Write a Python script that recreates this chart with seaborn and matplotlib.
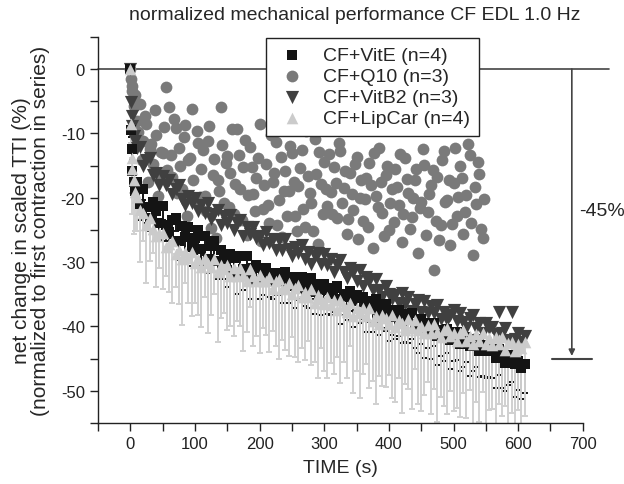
import numpy as np
import pandas as pd
import matplotlib
matplotlib.use("Agg")
import matplotlib.pyplot as plt
import seaborn as sns
from matplotlib.ticker import MultipleLocator

# sample times (s)
time_s = [0, 1, 2, 3, 5, 7,
          10, 15, 20, 25, 30, 35, 40, 45, 50, 55,
          60, 65, 70, 75, 80, 85, 90, 95, 100, 105,
          110, 115, 120, 125, 130, 135, 140, 145, 150, 155,
          160, 165, 170, 175, 180, 185, 190, 195, 200, 205,
          210, 215, 220, 225, 230, 235, 240, 245, 250, 255,
          260, 265, 270, 275, 280, 285, 290, 295, 300, 305,
          310, 315, 320, 325, 330, 335, 340, 345, 350, 355,
          360, 365, 370, 375, 380, 385, 390, 395, 400, 405,
          410, 415, 420, 425, 430, 435, 440, 445, 450, 455,
          460, 465, 470, 475, 480, 485, 490, 495, 500, 505,
          510, 515, 520, 525, 530, 535, 540, 545, 550, 555,
          560, 565, 570, 575, 580, 585, 590, 595, 600, 605,
          610]

vite = [0, -9.5, -12.5, -15.8, -17.6, -18.9,
        -17.6, -21.0, -18.6, -21.4, -23.1, -20.6, -22.0, -23.9, -21.3, -24.3,
        -25.4, -23.5, -23.1, -26.8, -24.4, -26.1, -24.6, -27.6, -26.2, -25.0,
        -28.0, -26.0, -29.5, -27.5, -26.7, -29.8, -28.2, -29.5, -31.2, -28.7,
        -29.4, -31.8, -29.1, -31.1, -29.0, -32.8, -30.9, -30.4, -32.9, -31.9,
        -30.9, -32.2, -33.1, -31.7, -32.1, -33.1, -31.6, -32.8, -32.4, -33.8,
        -32.8, -32.3, -34.1, -33.5, -32.5, -34.6, -33.4, -34.4, -33.4, -34.4,
        -34.9, -34.1, -33.7, -35.8, -34.9, -35.4, -34.5, -36.1, -35.2, -35.6,
        -35.4, -37.0, -36.1, -36.8, -35.7, -37.6, -37.0, -36.5, -38.6, -37.4,
        -38.2, -37.4, -39.2, -38.1, -38.8, -37.9, -39.8, -39.7, -38.9, -40.7,
        -39.5, -40.7, -39.5, -41.5, -40.6, -41.2, -40.4, -42.1, -41.3, -40.8,
        -42.8, -41.8, -41.7, -43.0, -42.8, -41.9, -43.9, -42.9, -43.8, -43.2,
        -43.7, -44.9, -43.5, -44.7, -45.7, -44.5, -44.5, -45.9, -45.4, -46.5,
        -45.8]

vite_err = [0, 1.0, 1.5, 2.0, 2.0, 2.0,
            2.0, 2.4, 1.8, 2.6, 2.1, 2.5, 1.9, 2.7, 2.2, 2.4,
            2.3, 2.7, 2.0, 2.9, 2.4, 2.6, 2.1, 3.0, 2.5, 2.8,
            2.5, 2.9, 2.2, 3.1, 2.6, 2.8, 2.3, 3.2, 2.7, 3.0,
            2.7, 3.1, 2.4, 3.3, 2.8, 3.0, 2.5, 3.4, 2.9, 3.2,
            2.9, 3.3, 2.6, 3.5, 3.0, 3.2, 2.7, 3.6, 3.1, 3.4,
            3.1, 3.5, 2.8, 3.7, 3.2, 3.4, 2.9, 3.8, 3.3, 3.6,
            3.3, 3.7, 3.0, 3.9, 3.4, 3.6, 3.1, 4.0, 3.5, 3.8,
            3.5, 3.9, 3.2, 4.1, 3.6, 3.8, 3.3, 4.2, 3.7, 4.0,
            3.7, 4.1, 3.4, 4.3, 3.8, 4.0, 3.5, 4.4, 3.9, 4.2,
            3.9, 4.3, 3.6, 4.5, 4.0, 4.2, 3.7, 4.6, 4.1, 4.4,
            4.1, 4.5, 3.8, 4.7, 4.2, 4.4, 3.9, 4.8, 4.3, 4.6,
            4.3, 4.7, 4.0, 4.9, 4.4, 4.6, 4.1, 5.0, 4.5, 4.8,
            4.5]

# Q10 recording stops around 545 s
q10 = [0, -1.5, -2.6, -3.4, -5.8, -4.0,
       -8.1, -5.5, -11.2, -8.6, -12.4, -14.8, -10.3, -16.5, -13.0, -2.8,
       -5.9, -16.8, -9.1, -12.3, -18.6, -8.7, -14.2, -6.2, -20.4, -11.5,
       -15.6, -19.8, -11.2, -24.7, -14.0, -17.3, -5.9, -20.9, -13.5, -16.2,
       -22.6, -9.4, -18.7, -15.3, -25.8, -12.1, -19.5, -16.9, -8.6, -21.7,
       -14.8, -23.9, -17.6, -11.4, -20.3, -26.1, -15.9, -19.0, -13.1, -22.8,
       -18.2, -12.6, -24.5, -16.6, -20.8, -10.9, -27.2, -17.9, -14.4, -21.3,
       -19.1, -15.2, -23.1, -12.8, -18.5, -25.6, -16.1, -21.9, -13.7, -20.0,
       -23.7, -17.0, -14.6, -27.8, -19.8, -12.2, -22.4, -16.4, -25.0, -18.6,
       -15.5, -21.1, -26.9, -13.9, -19.3, -23.0, -17.3, -28.6, -20.6, -14.9,
       -22.2, -18.1, -31.2, -16.8, -24.3, -12.7, -20.4, -27.4, -17.7, -22.9,
       -15.0, -25.7, -19.6, -13.4, -28.9, -21.0, -16.3, -26.2]

# Q10 points between the samples above (12.5 s, 17.5 s, ...)
q10_b = [-9.8, -14.2, -7.3, -17.5, -11.6, -6.4, -19.8, -12.9, -9.0, -15.7,
         -13.4, -7.8, -19.2, -15.1, -10.6, -22.8, -13.8, -17.2, -9.6, -19.9,
         -12.6, -22.1, -8.8, -16.4, -26.3, -18.9, -11.8, -14.6, -21.5, -9.3,
         -17.8, -13.3, -23.4, -11.0, -19.6, -15.2, -22.1, -13.9, -26.7, -18.0,
         -21.1, -10.2, -16.1, -24.2, -13.6, -19.0, -22.9, -11.9, -17.5, -25.2,
         -15.4, -21.8, -9.7, -19.3, -25.1, -16.3, -12.9, -22.5, -18.7, -13.2,
         -22.6, -17.7, -11.5, -20.8, -15.9, -23.3, -19.4, -14.8, -26.4, -17.2,
         -20.2, -24.6, -18.1, -13.0, -21.4, -17.6, -26.0, -15.1, -20.9, -23.8,
         -18.4, -13.2, -22.6, -17.1, -24.9, -20.1, -15.6, -21.6, -12.4, -25.8,
         -19.4, -15.7, -23.6, -26.5, -14.1, -20.7, -17.2, -24.1, -12.3, -19.9,
         -16.9, -22.3, -11.6, -23.9, -18.3, -14.5, -24.8, -20.2]
q10_b_time = [t + 2.5 for t in time_s[6:6 + len(q10_b)]]

vitb2 = [0, -5.2, -7.3, -8.9, -10.4, -11.2,
         -12.3, -12.1, -15.0, -14.2, -13.9, -16.5, -16.1, -18.0, -16.6, -18.1,
         -17.2, -19.4, -18.6, -18.1, -20.2, -21.1, -19.8, -20.8, -20.0, -22.1,
         -21.1, -22.4, -20.8, -23.3, -22.5, -21.9, -24.2, -22.9, -23.9, -22.7,
         -25.0, -24.0, -23.4, -26.0, -24.5, -25.6, -24.6, -26.3, -25.9, -27.3,
         -25.4, -27.1, -26.4, -28.2, -26.5, -28.2, -26.4, -27.9, -29.1, -27.6,
         -28.6, -27.4, -29.6, -28.4, -30.3, -29.0, -28.6, -30.3, -28.7, -30.4,
         -29.5, -31.5, -30.5, -29.7, -31.6, -32.5, -31.0, -31.6, -32.9, -31.3,
         -33.7, -32.3, -32.9, -34.3, -32.7, -34.3, -35.4, -33.8, -34.9, -35.8,
         -35.1, -36.4, -34.8, -36.5, -35.5, -37.6, -36.5, -35.9, -37.7, -36.0,
         -37.9, -36.8, -37.9, -36.7, -38.9, -37.7, -39.0, -38.3, -37.5, -39.1,
         -37.9, -39.3, -40.2, -38.7, -38.2, -40.3, -39.5, -41.1, -39.5, -40.3,
         -40.1, -41.2, -37.7, -41.1, -40.3, -42.1, -37.8, -41.9, -41.1, -42.4,
         -41.5]

lipcar = [0, -8.5, -13.8, -15.6, -17.2, -19.1,
          -19.9, -21.9, -22.4, -24.3, -23.2, -24.8, -26.0, -25.5, -25.5, -27.6,
          -27.2, -26.8, -28.8, -28.2, -29.6, -28.4, -29.4, -28.5, -30.1, -29.5,
          -30.8, -29.4, -30.2, -30.8, -29.6, -31.5, -30.5, -31.1, -30.4, -32.2,
          -31.0, -32.2, -30.9, -32.0, -33.0, -31.1, -32.2, -32.9, -32.0, -33.0,
          -33.0, -32.3, -34.2, -33.0, -32.6, -34.2, -34.1, -33.3, -34.9, -34.1,
          -33.6, -35.4, -34.6, -35.4, -34.2, -36.3, -35.1, -35.8, -36.6, -35.4,
          -36.7, -35.9, -37.4, -35.9, -36.8, -37.7, -36.3, -38.4, -37.2, -37.9,
          -37.2, -38.4, -37.2, -39.1, -38.4, -39.6, -38.3, -38.7, -39.7, -38.3,
          -40.1, -39.0, -39.5, -40.6, -38.9, -40.2, -39.0, -40.6, -39.9, -41.1,
          -39.8, -41.1, -39.6, -40.9, -41.7, -40.5, -40.2, -41.5, -41.0, -42.2,
          -41.0, -40.6, -42.3, -41.5, -42.7, -41.2, -42.3, -41.1, -42.8, -41.8,
          -42.9, -41.7, -42.7, -41.6, -43.6, -42.6, -42.4, -43.8, -42.7, -43.4,
          -42.5]

lipcar_err = [0, 3.0, 5.5, 7.0, 8.5, 6.0,
              5.2, 8.1, 4.3, 9.0, 6.6, 3.8, 7.9, 5.5, 8.7, 4.6,
              7.4, 9.6, 5.1, 8.3, 10.2, 4.9, 7.0, 9.9, 6.2, 8.8,
              9.3, 6.0, 10.8, 7.5, 5.4, 11.0, 8.2, 6.8, 10.1, 7.7,
              10.5, 6.9, 9.1, 11.9, 7.8, 5.9, 10.9, 8.6, 12.2, 7.2,
              8.4, 11.7, 6.5, 10.0, 12.4, 7.9, 9.5, 11.3, 6.7, 10.6,
              12.0, 8.0, 10.7, 6.9, 11.8, 9.2, 13.0, 7.6, 10.3, 12.6,
              9.0, 11.5, 7.3, 12.9, 8.7, 10.4, 6.8, 11.9, 9.7, 13.3,
              10.2, 7.5, 12.3, 9.4, 13.6, 8.1, 11.0, 10.7, 7.9, 12.8,
              11.6, 9.1, 13.9, 8.3, 10.9, 12.7, 7.7, 11.4, 13.2, 9.6,
              8.9, 12.5, 10.1, 14.0, 9.3, 11.8, 13.4, 8.6, 12.1, 10.5,
              13.1, 9.8, 11.9, 8.4, 14.2, 10.6, 12.6, 9.1, 13.8, 11.2,
              10.0, 13.5, 9.4, 12.4, 8.8, 14.5, 11.1, 13.0, 10.3, 12.7,
              11.5]

labels = ["CF+VitE (n=4)", "CF+Q10 (n=3)", "CF+VitB2 (n=3)", "CF+LipCar (n=4)"]
colors = ["#141414", "#7a7a7a", "#404040", "#cbcbcb"]

sns.set_style("ticks")
plt.rcParams["font.family"] = ["Liberation Sans", "DejaVu Sans"]
plt.rcParams["axes.unicode_minus"] = False

fig = plt.figure(figsize=(6.24, 4.85), dpi=100)
ax = fig.add_axes([0.157, 0.126, 0.777, 0.796])

# reference line at 0
ax.plot([-50, 740], [0, 0], color="#444444", lw=1.2, clip_on=False, zorder=1)

# error bars shown on the minus side only, as in the original figure
no_up = [0] * len(time_s)
ax.errorbar(time_s, lipcar, yerr=[lipcar_err, no_up], fmt="none", ecolor="#d0d0d0",
            elinewidth=1.4, capsize=2.5, capthick=1.4, zorder=1.5)
ax.errorbar(time_s, vite, yerr=[vite_err, no_up], fmt="none", ecolor=colors[0],
            elinewidth=1.4, capsize=2.5, capthick=1.4, zorder=1.4)

sns.scatterplot(x=time_s[:len(q10)], y=q10, ax=ax, color=colors[1], marker="o",
                s=72, linewidth=0, label=labels[1], zorder=2)
sns.scatterplot(x=q10_b_time, y=q10_b, ax=ax, color=colors[1], marker="o",
                s=72, linewidth=0, zorder=2)
sns.scatterplot(x=time_s, y=vitb2, ax=ax, color=colors[2], marker="v",
                s=90, linewidth=0, label=labels[2], zorder=3)
sns.scatterplot(x=time_s, y=vite, ax=ax, color=colors[0], marker="s",
                s=45, linewidth=0, label=labels[0], zorder=4)
sns.scatterplot(x=time_s, y=lipcar, ax=ax, color=colors[3], marker="^",
                s=70, linewidth=0, label=labels[3], zorder=5)

# -45% marker on the right
ax.annotate("", xy=(683, -44.6), xytext=(683, 0),
            arrowprops=dict(arrowstyle="-|>", color="#444444", lw=1.2,
                            mutation_scale=9, shrinkA=0, shrinkB=0),
            annotation_clip=False)
ax.plot([652, 714], [-45, -45], color="#444444", lw=1.5, clip_on=False)
ax.text(694, -22, "-45%", fontsize=14, ha="left", va="center", clip_on=False)

ax.set_xlim(-50, 700)
ax.set_ylim(-55, 5)
ax.xaxis.set_major_locator(MultipleLocator(100))
ax.xaxis.set_minor_locator(MultipleLocator(50))
ax.yaxis.set_major_locator(MultipleLocator(10))
ax.yaxis.set_minor_locator(MultipleLocator(5))
ax.tick_params(which="major", direction="out", length=6, width=1, labelsize=12,
               colors="#222222")
ax.tick_params(which="minor", direction="out", length=6, width=1, colors="#222222")
for s in ["left", "bottom"]:
    ax.spines[s].set_color("#222222")
    ax.spines[s].set_linewidth(1)
sns.despine(ax=ax)

ax.set_xlabel("TIME (s)", fontsize=14, labelpad=6)
ax.set_ylabel("net change in scaled TTI (%)\n(normalized to first contraction in series)",
              fontsize=15, linespacing=1.0, labelpad=8)
fig.text(0.569, 0.969, "normalized mechanical performance CF EDL 1.0 Hz",
         fontsize=14, ha="center", va="center")

h, l = ax.get_legend_handles_labels()
order = [l.index(name) for name in labels]
ax.legend([h[i] for i in order], labels, loc="upper left",
          bbox_to_anchor=(0.346, 0.997), fontsize=14, frameon=True,
          fancybox=False, edgecolor="#222222", framealpha=1,
          labelspacing=0.17, handletextpad=0.7, handlelength=1.8,
          borderpad=0.45, borderaxespad=0)

fig.savefig("out.png", dpi=100)
